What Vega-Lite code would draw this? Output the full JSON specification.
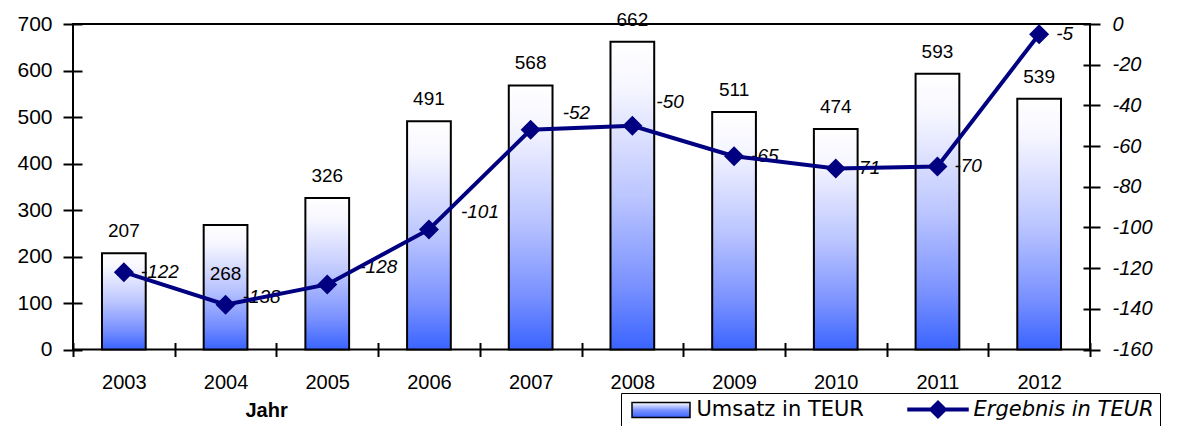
{
  "$schema": "https://vega.github.io/schema/vega-lite/v6.json",
  "width": 1017,
  "height": 325.5,
  "autosize": {"type": "none"},
  "padding": {"left": 73, "top": 24, "right": 110, "bottom": 76.5},
  "background": "white",
  "config": {
    "font": "Liberation Sans",
    "view": {"stroke": "black", "strokeWidth": 2},
    "axis": {
      "tickColor": "black",
      "tickWidth": 2,
      "labelColor": "black",
      "labelFont": "Liberation Sans",
      "titleColor": "black",
      "titleFont": "Liberation Sans",
      "domain": false,
      "grid": false
    }
  },
  "data": {
    "values": [
      {"jahr": "2003", "umsatz": 207, "ergebnis": -122},
      {"jahr": "2004", "umsatz": 268, "ergebnis": -138},
      {"jahr": "2005", "umsatz": 326, "ergebnis": -128},
      {"jahr": "2006", "umsatz": 491, "ergebnis": -101},
      {"jahr": "2007", "umsatz": 568, "ergebnis": -52},
      {"jahr": "2008", "umsatz": 662, "ergebnis": -50},
      {"jahr": "2009", "umsatz": 511, "ergebnis": -65},
      {"jahr": "2010", "umsatz": 474, "ergebnis": -71},
      {"jahr": "2011", "umsatz": 593, "ergebnis": -70},
      {"jahr": "2012", "umsatz": 539, "ergebnis": -5}
    ]
  },
  "encoding": {
    "x": {
      "field": "jahr",
      "type": "ordinal",
      "scale": {"paddingInner": 0, "paddingOuter": 0},
      "axis": {
        "orient": "bottom",
        "offset": -7,
        "tickSize": 14,
        "tickBand": "extent",
        "labelPadding": 16,
        "labelFontSize": 20,
        "labelAngle": 0,
        "title": "Jahr",
        "titleFontSize": 20,
        "titleFontWeight": "bold",
        "titleAnchor": "start",
        "titleAlign": "left",
        "titleBaseline": "top",
        "titleX": 172,
        "titleY": 58
      }
    }
  },
  "layer": [
    {
      "encoding": {
        "y": {
          "field": "umsatz",
          "type": "quantitative",
          "scale": {"domain": [0, 700], "nice": false},
          "axis": {
            "orient": "left",
            "values": [0, 100, 200, 300, 400, 500, 600, 700],
            "offset": -9,
            "tickSize": 19,
            "labelPadding": 11,
            "labelFontSize": 21,
            "title": null
          }
        }
      },
      "layer": [
        {
          "mark": {
            "type": "bar",
            "width": {"band": 0.43},
            "fill": {
              "gradient": "linear",
              "x1": 0, "y1": 0, "x2": 0, "y2": 1,
              "stops": [
                {"offset": 0, "color": "#ffffff"},
                {"offset": 0.15, "color": "#f6f6ff"},
                {"offset": 0.5, "color": "#bcc6ff"},
                {"offset": 0.8, "color": "#7890ff"},
                {"offset": 1, "color": "#3a64ff"}
              ]
            },
            "stroke": "black",
            "strokeWidth": 2
          }
        },
        {
          "transform": [{"filter": "datum.jahr != '2004'"}],
          "mark": {"type": "text", "dy": -22, "fontSize": 19, "baseline": "middle", "color": "black"},
          "encoding": {"text": {"field": "umsatz", "type": "nominal"}}
        },
        {
          "transform": [{"filter": "datum.jahr == '2004'"}],
          "mark": {"type": "text", "dy": 49, "fontSize": 19, "baseline": "middle", "color": "black"},
          "encoding": {"text": {"field": "umsatz", "type": "nominal"}}
        }
      ]
    },
    {
      "encoding": {
        "y": {
          "field": "ergebnis",
          "type": "quantitative",
          "scale": {"domain": [-160, 0], "nice": false, "zero": false},
          "axis": {
            "orient": "right",
            "values": [-160, -140, -120, -100, -80, -60, -40, -20, 0],
            "offset": -7,
            "tickSize": 17,
            "labelPadding": 12,
            "labelFontSize": 20,
            "labelFontStyle": "italic",
            "labelExpr": "'' + datum.value",
            "title": null
          }
        }
      },
      "layer": [
        {
          "transform": [{"filter": "datum.jahr == '2005' || datum.jahr == '2006' || datum.jahr == '2007'"}],
          "mark": {"type": "text", "align": "left", "baseline": "middle", "fontStyle": "italic", "fontSize": 19, "dx": 32, "dy": -17, "color": "black"},
          "encoding": {"text": {"field": "ergebnis", "type": "nominal"}}
        },
        {
          "transform": [{"filter": "datum.jahr == '2008'"}],
          "mark": {"type": "text", "align": "left", "baseline": "middle", "fontStyle": "italic", "fontSize": 19, "dx": 24, "dy": -24, "color": "black"},
          "encoding": {"text": {"field": "ergebnis", "type": "nominal"}}
        },
        {
          "transform": [{"filter": "datum.jahr == '2004'"}],
          "mark": {"type": "text", "align": "left", "baseline": "middle", "fontStyle": "italic", "fontSize": 19, "dx": 17, "dy": -8, "color": "black"},
          "encoding": {"text": {"field": "ergebnis", "type": "nominal"}}
        },
        {
          "transform": [{"filter": "indexof(['2003','2009','2010','2011','2012'], datum.jahr) >= 0"}],
          "mark": {"type": "text", "align": "left", "baseline": "middle", "fontStyle": "italic", "fontSize": 19, "dx": 17, "dy": 0, "color": "black"},
          "encoding": {"text": {"field": "ergebnis", "type": "nominal"}}
        },
        {
          "mark": {"type": "line", "strokeWidth": 4, "color": "#000080"}
        },
        {
          "mark": {"type": "point", "shape": "diamond", "size": 400, "filled": true, "opacity": 1},
          "encoding": {
            "color": {
              "datum": "Ergebnis in TEUR",
              "type": "nominal",
              "scale": {
                "domain": ["Umsatz in TEUR", "Ergebnis in TEUR"],
                "range": [
                  {"expr": "{gradient: 'linear', x1: 0, y1: 0, x2: 0, y2: 1, stops: [{offset: 0, color: '#ffffff'}, {offset: 0.5, color: '#7d93ff'}, {offset: 1, color: '#3a64ff'}]}"},
                  "#000080"
                ]
              },
              "legend": {
                "orient": "none",
                "legendX": 548,
                "legendY": 369,
                "direction": "horizontal",
                "title": null,
                "strokeColor": "black",
                "padding": 6,
                "columnPadding": 40,
                "labelOffset": 25,
                "symbolOffset": 23.5,
                "symbolSize": 256,
                "symbolStrokeWidth": 1.5,
                "symbolType": {"expr": "datum.value === 'Umsatz in TEUR' ? 'M-3.625,-0.9375H3.625V0.9375H-3.625Z' : 'M-3.75,-0.16H3.75V0.16H-3.75Z M0,-1.06L1.06,0L0,1.06L-1.06,0Z'"},
                "symbolStrokeColor": {"expr": "datum.value === 'Umsatz in TEUR' ? 'black' : '#000080'"},
                "labelFontStyle": {"expr": "datum.value === 'Ergebnis in TEUR' ? 'italic' : 'normal'"},
                "labelFont": "DejaVu Sans",
                "labelFontSize": 21,
                "labelColor": "black",
                "labelLimit": 400
              }
            }
          }
        }
      ]
    }
  ],
  "resolve": {"scale": {"y": "independent"}}
}
